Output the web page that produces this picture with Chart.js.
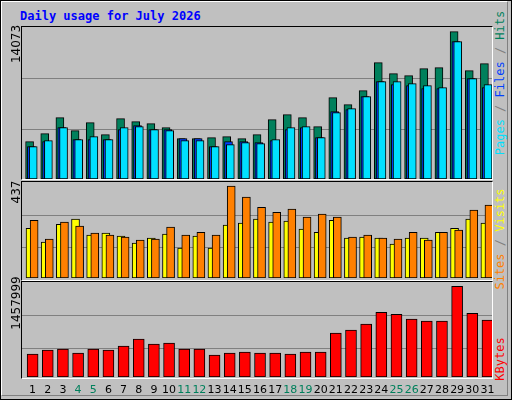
<!DOCTYPE html>
<html><head><meta charset="utf-8">
<script src="https://cdn.jsdelivr.net/npm/chart.js@4"></script>
<style>
body{margin:0;background:#fff}
#wrap{position:relative;width:510px;height:398px;background:#c0c0c0;border:1px solid #000;overflow:hidden}
#shade{position:absolute;left:0;top:0;width:505px;height:393px;border-left:1px solid #fff;border-top:1px solid #fff;border-right:1px solid #808080;border-bottom:1px solid #808080}
.panel{position:absolute;left:20px;width:470px;border-left:1px solid #000;border-top:1px solid #000;border-right:1px solid #fff;border-bottom:1px solid #fff;background:#c0c0c0}
.panel canvas{position:absolute;left:0;bottom:0}
.rot{position:absolute;transform:translate(-50%,-50%) rotate(-90deg);white-space:nowrap;font-family:"DejaVu Sans Mono",monospace;font-size:12px}
.xl{position:absolute;top:382px;transform:translateX(-50%);font-family:"DejaVu Sans",sans-serif;font-size:11px}
#title{position:absolute;left:19px;top:8px;color:#0000ff;font:bold 12px "DejaVu Sans Mono",monospace}
</style></head><body>
<div id="wrap"><div id="shade"></div>
<div id="title">Daily usage for July 2026</div>
<div class="panel" style="top:25px;height:152px"><div style="position:absolute;left:0;top:0;width:470px;height:152px"><canvas id="c1"></canvas></div></div>
<div class="panel" style="top:180px;height:98px"><div style="position:absolute;left:0;top:0;width:470px;height:96px"><canvas id="c2"></canvas></div></div>
<div class="panel" style="top:280px;height:96px"><div style="position:absolute;left:0;top:0;width:470px;height:95px"><canvas id="c3"></canvas></div></div>
<div class="rot" style="left:15px;top:43px;font-family:'DejaVu Sans';">14073</div>
<div class="rot" style="left:15px;top:191px;font-family:'DejaVu Sans';">437</div>
<div class="rot" style="left:15px;top:302px;font-family:'DejaVu Sans';">1457999</div>
<div class="rot" style="left:499px;top:82px"><span style="color:#00e0ff">Pages</span><span style="color:#808080"> / </span><span style="color:#0040ff">Files</span><span style="color:#808080"> / </span><span style="color:#00805c">Hits</span></div>
<div class="rot" style="left:499px;top:238px"><span style="color:#ff8000">Sites</span><span style="color:#808080"> / </span><span style="color:#ffff00">Visits</span></div>
<div class="rot" style="left:499px;top:358px;color:#ff0000">KBytes</div>
<div id="xl"></div>
</div>
<script>
const days=[1,2,3,4,5,6,7,8,9,10,11,12,13,14,15,16,17,18,19,20,21,22,23,24,25,26,27,28,29,30,31];
const weekend=[4,5,11,12,18,19,25,26];
const hits=[3566,4330,5859,4617,5381,4235,5763,5476,5285,4903,3853,3853,3948,4044,3853,4235,5668,6145,5859,4999,7769,7100,8438,11112,10061,9870,10539,10634,14073,10348,11017];
const files=[3088,3566,4903,3757,3757,3757,4712,5094,4712,4712,3853,3853,3088,3566,3566,3470,3662,4712,4903,3948,6432,6623,7864,9297,9011,8915,8629,8629,13118,9584,8724];
const pages=[3088,3662,4903,3757,4044,3757,4903,4999,4712,4617,3662,3662,3088,3280,3470,3375,3757,4903,4999,3948,6336,6718,7864,9297,9297,9106,8915,8724,13118,9584,9011];
const sites=[237,171,256,280,204,214,199,166,190,209,142,199,142,252,261,280,266,271,233,218,275,190,195,190,161,190,190,218,237,280,261];
const visits=[275,185,266,247,214,204,195,180,185,242,204,218,204,437,385,337,313,328,290,304,290,195,204,190,185,218,180,218,228,323,347];
const kbytes=[368000,433000,449000,385000,449000,433000,497000,609000,529000,545000,449000,449000,353000,385000,401000,385000,385000,368000,401000,401000,705000,753000,849000,1041000,1009000,929000,897000,897000,1457999,1025000,913000];

function ds(vals,off,color,w,order){return{data:vals.map((v,i)=>({x:days[i]+off,y:v})),backgroundColor:color,borderColor:'#000',borderWidth:1,borderSkipped:false,barThickness:w,grouped:false,order:order};}
function mk(id,sets,ymax,g){
  new Chart(document.getElementById(id),{type:'bar',data:{datasets:sets},
  options:{responsive:true,maintainAspectRatio:false,animation:false,layout:{padding:0},
  plugins:{legend:{display:false},tooltip:{enabled:false}},
  scales:{x:{type:'linear',min:0.5,max:31.5,offset:false,bounds:'ticks',display:false,
     afterDataLimits:s=>{s.min=0.5;s.max=31.5;}},
   y:{min:0,max:ymax,border:{display:false},ticks:{display:false},grid:{color:'#808080',lineWidth:1,drawTicks:false},
     afterBuildTicks:s=>{s.ticks=g.map(v=>({value:v}));}}}}});
}
mk('c1',[ds(hits,0.0,'#00805c',8,3),ds(files,0.12,'#0040ff',8,2),ds(pages,0.24,'#00e0ff',8,1)],14512,[4716,9585]);
mk('c2',[ds(sites,0.03,'#ffff00',8,2),ds(visits,0.3,'#ff8000',8,1)],457,[143,299]);
mk('c3',[ds(kbytes,0.2,'#ff0000',11,1)],1526900,[464000,993000]);
const xl=document.getElementById('xl');
days.forEach(d=>{const e=document.createElement('div');e.className='xl';e.textContent=d;
 e.style.left=(21+(d-0.5+0.2)*470/31)+'px';e.style.color=weekend.includes(d)?'#00805c':'#000';xl.appendChild(e);});
</script></body></html>
